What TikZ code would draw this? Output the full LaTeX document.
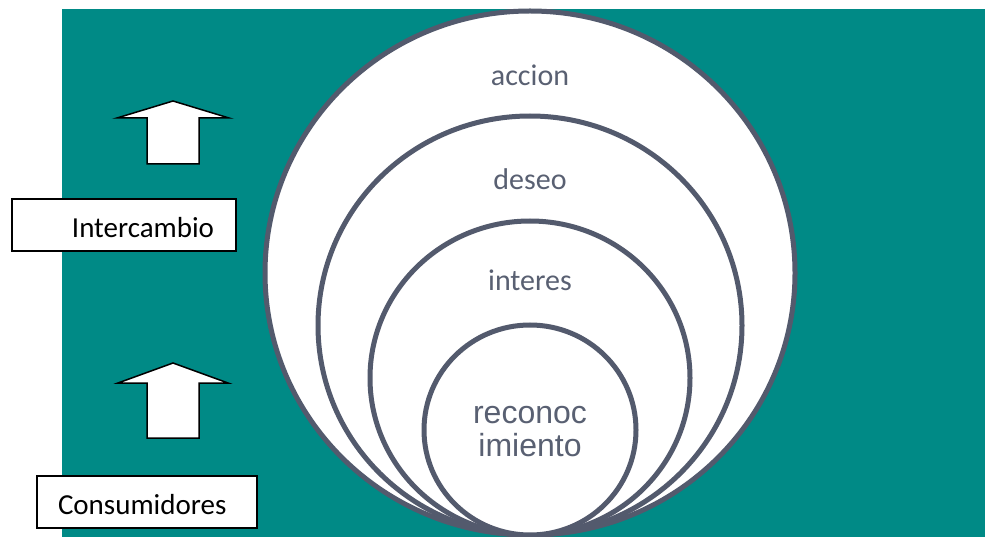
\documentclass[tikz,border=0pt]{standalone}
\usepackage{fontspec}
\setmainfont{Carlito}
\newfontfamily\arialfont{Liberation Sans}
\usetikzlibrary{positioning}
\definecolor{fondo}{RGB}{0,138,134}
\definecolor{aro}{RGB}{83,90,109}
\definecolor{letra}{RGB}{89,96,114}

\begin{document}
\begin{tikzpicture}[x=1pt,y=-1pt,
	aro/.style={draw=aro,line width=5pt,fill=white},
	etapa/.style={text=letra,font=\fontsize{30}{33}\selectfont,inner sep=0pt},
	caja/.style={draw=black,line width=1.6pt,fill=white,minimum height=52pt,inner ysep=0pt,text height=25pt,text depth=0pt,font=\fontsize{29}{30}\selectfont},
	bloque/.style={draw=black,line width=1.5pt,fill=white,line join=miter}]

	\useasboundingbox (0,0) rectangle (985,537);

	%%% Fondo
	\fill[fondo] (62,9) rectangle (985,537);

	%%% Aros (todos tangentes abajo)
	\draw[aro] (530,273) ellipse [x radius=265pt,y radius=262pt];
	\draw[aro] (530,325.5) ellipse [x radius=212pt,y radius=209.5pt];
	\draw[aro] (530,378) ellipse [x radius=160pt,y radius=157pt];
	\draw[aro] (530,430) ellipse [x radius=106pt,y radius=105pt];

	%%% Etapas
	\node[etapa] (accion) at (530,75) {accion};
	\node[etapa] (deseo) at (530,179) {deseo};
	\node[etapa] (interes) at (530,280) {interes};
	\node[text=letra,inner sep=0pt,align=center,font={\arialfont\fontsize{32}{33}\selectfont}] (reconoc) at (530,432) {reconoc\\imiento};

	%%% Cajas
	\node[caja,text width=180pt,align=right,inner xsep=22pt] (inter) at (124,225) {Intercambio};
	\node[caja,text width=178pt,align=left,inner xsep=21pt] (consu) at (147,502) {Consumidores};

	%%% Flechas
	\draw[bloque] (173,101) -- ++(56,17) -- ++(-30,0) -- ++(0,46) -- ++(-52,0) -- ++(0,-46) -- ++(-30,0) -- cycle;
	\draw[bloque] (173,363) -- ++(55,20) -- ++(-29,0) -- ++(0,55) -- ++(-52,0) -- ++(0,-55) -- ++(-29,0) -- cycle;
\end{tikzpicture}
\end{document}
